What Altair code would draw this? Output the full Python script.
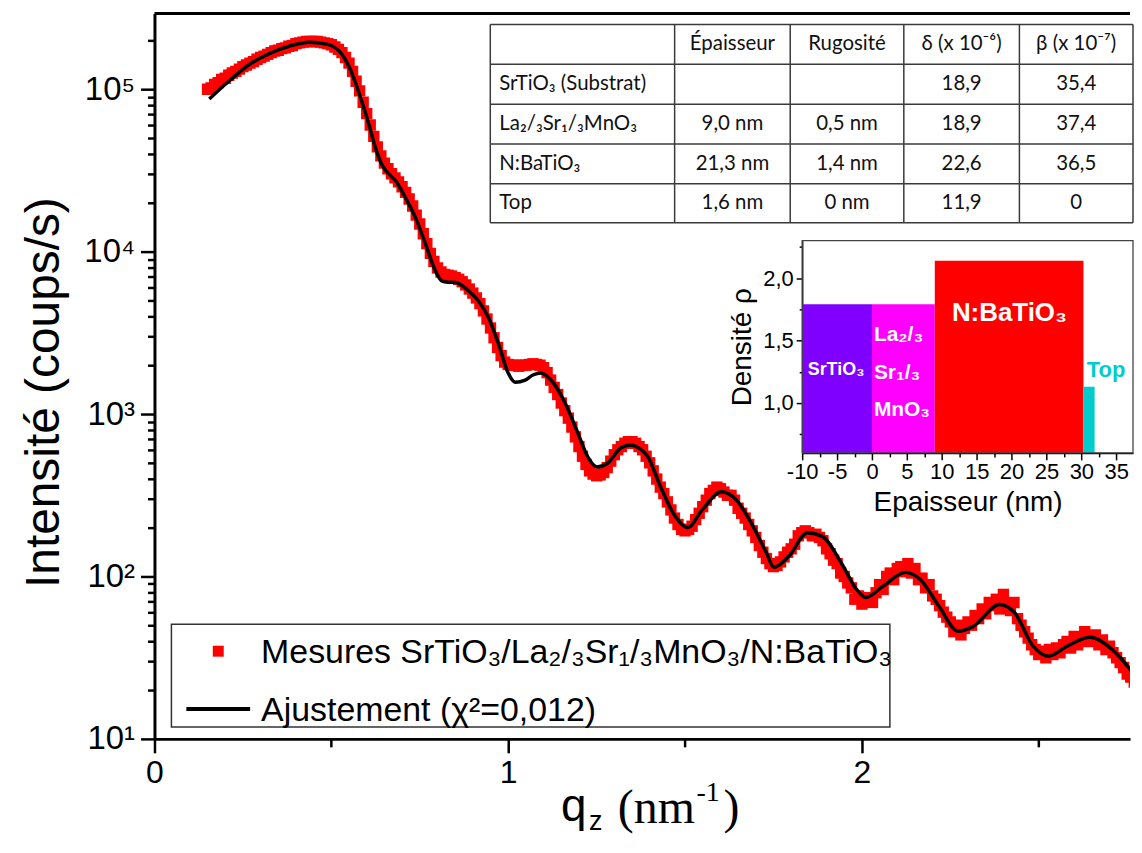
import altair as alt
import pandas as pd

# ------------------------------------------------------------------ data
q_mesures = [
    0.15, 0.16, 0.17, 0.18, 0.19, 0.20, 0.21, 0.22, 0.23, 0.24,
    0.25, 0.26, 0.27, 0.28, 0.29, 0.30, 0.31, 0.32, 0.33, 0.34,
    0.35, 0.36, 0.37, 0.38, 0.39, 0.40, 0.41, 0.42, 0.43, 0.44,
    0.45, 0.46, 0.47, 0.48, 0.49, 0.50, 0.51, 0.52, 0.53, 0.54,
    0.55, 0.56, 0.57, 0.58, 0.59, 0.60, 0.61, 0.62, 0.63, 0.64,
    0.65, 0.66, 0.67, 0.68, 0.69, 0.70, 0.71, 0.72, 0.73, 0.74,
    0.75, 0.76, 0.77, 0.78, 0.79, 0.80, 0.81, 0.82, 0.83, 0.84,
    0.85, 0.86, 0.87, 0.88, 0.89, 0.90, 0.91, 0.92, 0.93, 0.94,
    0.95, 0.96, 0.97, 0.98, 0.99, 1.00, 1.01, 1.02, 1.03, 1.04,
    1.05, 1.06, 1.07, 1.08, 1.09, 1.10, 1.11, 1.12, 1.13, 1.14,
    1.15, 1.16, 1.17, 1.18, 1.19, 1.20, 1.21, 1.22, 1.23, 1.24,
    1.25, 1.26, 1.27, 1.28, 1.29, 1.30, 1.31, 1.32, 1.33, 1.34,
    1.35, 1.36, 1.37, 1.38, 1.39, 1.40, 1.41, 1.42, 1.43, 1.44,
    1.45, 1.46, 1.47, 1.48, 1.49, 1.50, 1.51, 1.52, 1.53, 1.54,
    1.55, 1.56, 1.57, 1.58, 1.59, 1.60, 1.61, 1.62, 1.63, 1.64,
    1.65, 1.66, 1.67, 1.68, 1.69, 1.70, 1.71, 1.72, 1.73, 1.74,
    1.75, 1.76, 1.77, 1.78, 1.79, 1.80, 1.81, 1.82, 1.83, 1.84,
    1.85, 1.86, 1.87, 1.88, 1.89, 1.90, 1.91, 1.92, 1.93, 1.94,
    1.95, 1.96, 1.97, 1.98, 1.99, 2.00, 2.01, 2.02, 2.03, 2.04,
    2.05, 2.06, 2.07, 2.08, 2.09, 2.10, 2.11, 2.12, 2.13, 2.14,
    2.15, 2.16, 2.17, 2.18, 2.19, 2.20, 2.21, 2.22, 2.23, 2.24,
    2.25, 2.26, 2.27, 2.28, 2.29, 2.30, 2.31, 2.32, 2.33, 2.34,
    2.35, 2.36, 2.37, 2.38, 2.39, 2.40, 2.41, 2.42, 2.43, 2.44,
    2.45, 2.46, 2.47, 2.48, 2.49, 2.50, 2.51, 2.52, 2.53, 2.54,
    2.55, 2.56, 2.57, 2.58, 2.59, 2.60, 2.61, 2.62, 2.63, 2.64,
    2.65, 2.66, 2.67, 2.68, 2.69, 2.70, 2.71, 2.72, 2.73, 2.74,
    2.75, 2.76, 2.77,
]
I_mesures = [
    100000, 102000, 107000, 110000, 115000, 117000, 122000, 126000, 129000, 133000,
    138000, 141000, 145000, 148000, 153000, 157000, 160000, 164000, 168000, 172000,
    174000, 178000, 180000, 184000, 186000, 191000, 193000, 195000, 197000, 197000,
    197000, 197000, 195000, 193000, 191000, 188000, 182000, 176000, 168000, 157000,
    145000, 129000, 112000, 97700, 83200, 70800, 60300, 51300, 44200, 38900,
    35100, 32400, 30200, 28500, 26900, 25100, 23200, 21100, 19100, 16800,
    14800, 12900, 11200, 9770, 8710, 7940, 7500, 7240, 7160, 7080,
    6920, 6760, 6530, 6240, 5890, 5560, 5190, 4790, 4320, 3850,
    3390, 2950, 2570, 2290, 2090, 2020, 2000, 2000, 1970, 2000,
    2000, 2020, 2040, 2020, 2000, 1930, 1800, 1620, 1460, 1320,
    1170, 1050, 944, 832, 724, 631, 550, 490, 447, 427,
    417, 422, 437, 468, 513, 562, 603, 631, 661, 676,
    676, 661, 631, 603, 550, 501, 447, 398, 355, 324,
    288, 257, 229, 209, 195, 191, 195, 204, 224, 245,
    269, 295, 324, 339, 355, 347, 331, 316, 316, 295,
    263, 245, 229, 209, 191, 174, 155, 141, 129, 120,
    115, 117, 123, 132, 141, 148, 158, 178, 186, 191,
    186, 178, 182, 174, 166, 148, 138, 126, 120, 105,
    100, 91.2, 85.1, 72.4, 75.9, 67.6, 70.8, 74.1, 69.2, 79.4,
    89.1, 83.2, 100, 105, 95.5, 112, 115, 107, 120, 105,
    112, 95.5, 97.7, 85.1, 89.1, 75.9, 72.4, 66.1, 60.3, 56.2,
    52.5, 45.7, 50.1, 43.7, 47.9, 52.5, 50.1, 57.5, 55.0, 63.1,
    58.9, 69.2, 66.1, 72.4, 63.1, 77.6, 67.6, 61.7, 69.2, 55.0,
    50.1, 45.7, 41.7, 38.0, 35.5, 33.1, 34.7, 31.6, 35.5, 33.1,
    36.3, 33.9, 38.0, 39.8, 36.3, 42.7, 38.0, 39.8, 45.7, 41.7,
    39.8, 43.7, 38.0, 40.7, 35.5, 37.2, 33.9, 31.6, 29.5, 27.5,
    25.1, 24.0, 22.4,
]

q_ajust = [
    0.155, 0.21, 0.27, 0.32, 0.38, 0.437, 0.49, 0.53, 0.55, 0.57,
    0.586, 0.606, 0.625, 0.642, 0.662, 0.682, 0.71, 0.738, 0.766, 0.794,
    0.811, 0.83, 0.851, 0.887, 0.915, 0.944, 0.972, 1.0, 1.02, 1.048,
    1.07, 1.093, 1.121, 1.161, 1.197, 1.225, 1.251, 1.282, 1.318, 1.346,
    1.37, 1.394, 1.431, 1.473, 1.507, 1.549, 1.603, 1.645, 1.687, 1.73,
    1.751, 1.793, 1.846, 1.889, 1.941, 1.985, 2.011, 2.059, 2.123, 2.165,
    2.218, 2.272, 2.315, 2.389, 2.431, 2.484, 2.527, 2.58, 2.644, 2.707,
    2.78,
]
I_ajust = [
    87100, 112000, 143000, 164000, 184000, 195000, 189000, 164000, 138000, 107000,
    84300, 61000, 43400, 34700, 30200, 27300, 21400, 16200, 11200, 7640,
    6640, 6490, 6460, 5770, 5000, 3940, 2730, 1790, 1570, 1620,
    1740, 1790, 1620, 1170, 764, 545, 473, 500, 618, 646,
    617, 550, 356, 233, 200, 258, 332, 296, 214, 140,
    114, 133, 186, 176, 122, 83.2, 74.3, 86.9, 106, 95.9,
    65.5, 46.0, 49.3, 67.3, 60.1, 37.2, 32.3, 37.2, 42.3, 35.6,
    23.3,
]

serie_noms = ["Mesures SrTiO₃/La₂/₃Sr₁/₃MnO₃/N:BaTiO₃", "Ajustement (χ²=0,012)"]

x_ticks_major = [0, 1, 2]
x_ticks_minor = [0.5, 1.5, 2.5]
y_decades = [10, 100, 1000, 10000, 100000]

couches = ["SrTiO₃", "La₂/₃Sr₁/₃MnO₃", "N:BaTiO₃", "Top"]
couche_debut = [-10.0, 0.0, 9.0, 30.3]
couche_fin = [0.0, 9.0, 30.3, 31.9]
couche_densite = [1.79, 1.79, 2.14, 1.13]
couche_labels = ["SrTiO₃", "La₂/₃", "Sr₁/₃", "MnO₃", "N:BaTiO₃", "Top"]

tab_entetes = ["Épaisseur", "Rugosité", "δ (x 10⁻⁶)", "β (x 10⁻⁷)"]
tab_lignes = ["SrTiO₃ (Substrat)", "La₂/₃Sr₁/₃MnO₃", "N:BaTiO₃", "Top"]
tab_epaisseur = ["", "9,0 nm", "21,3 nm", "1,6 nm"]
tab_rugosite = ["", "0,5 nm", "1,4 nm", "0 nm"]
tab_delta = ["18,9", "18,9", "22,6", "11,9"]
tab_beta = ["35,4", "37,4", "36,5", "0"]

# ------------------------------------------------------------------ layout / style
W, H = 979, 728
X0, Y0 = 155, 12          # page position of the plot origin


def px(x):
    return x - X0


def py(y):
    return y - Y0


SANS = "Liberation Sans, Arial, Helvetica, sans-serif"
SERIF = "Liberation Serif, Times New Roman, serif"
TAB = "Lato, Carlito, Calibri, sans-serif"
couleurs_couches = ["#8000ff", "#ff00ff", "#ff0000", "#00cccc"]

y_minor = [m * d for d in [10, 100, 1000, 10000] for m in range(2, 10)] + [200000]
is_dec = "abs(log(datum.value)/LN10 - round(log(datum.value)/LN10)) < 0.001"

# ------------------------------------------------------------------ main plot
df_mes = pd.DataFrame({"q": q_mesures, "I": I_mesures})
df_fit = pd.DataFrame({"q": q_ajust, "I": I_ajust})

x_scale = alt.Scale(domain=[0, 2.758], nice=False, zero=False)
y_scale = alt.Scale(type="log", domain=[10, 293000], nice=False)

x_axis = alt.Axis(
    values=sorted(x_ticks_major + x_ticks_minor),
    labelExpr="datum.value == round(datum.value) ? '' + datum.value : ''",
    tickSize={"condition": {"test": "datum.value == round(datum.value)", "value": 14}, "value": 8},
    title=None, grid=False, labelFlush=False, labelOverlap=False,
    domainColor="black", domainWidth=3, tickColor="black", tickWidth=2.5,
    labelFont=SANS, labelFontSize=32, labelColor="black", labelPadding=5,
)
y_axis = alt.Axis(
    values=y_decades + y_minor,
    labelExpr=is_dec + " ? '10' + ['⁰','¹','²','³','⁴','⁵','⁶'][round(log(datum.value)/LN10)] : ''",
    tickSize={"condition": {"test": is_dec, "value": 14}, "value": 7},
    grid=False, labelFlush=False, labelOverlap=False,
    domainColor="black", domainWidth=3, tickColor="black", tickWidth=2.5,
    labelFont=SANS, labelFontSize=33, labelColor="black", labelPadding=6,
    title="Intensité (coups/s)", titleFont=SANS, titleFontSize=48, titleFontWeight="normal",
    titleColor="black", titleX=px(45), titleY=py(392), titleAngle=270,
    titleAlign="center", titleBaseline="middle",
)

points = alt.Chart(df_mes).mark_square(size=130, color="#ff0000", opacity=1, clip=True).encode(
    x=alt.X("q:Q", scale=x_scale, axis=x_axis),
    y=alt.Y("I:Q", scale=y_scale, axis=y_axis),
)
line = alt.Chart(df_fit).mark_line(color="black", strokeWidth=3.5, interpolate="monotone", clip=True).encode(
    x="q:Q", y="I:Q"
)
main = alt.layer(points, line)

one = pd.DataFrame({"k": [0]})
top_border = alt.Chart(one).mark_rule(color="black", strokeWidth=3).encode(
    x=alt.value(0), x2=alt.value(W), y=alt.value(0)
)

# ------------------------------------------------------------------ inset (density profile)
df_couches = pd.DataFrame({
    "couche": couches, "debut": couche_debut, "fin": couche_fin,
    "densite": couche_densite, "base": [0.6] * 4,
})
ix_scale = alt.Scale(domain=[-10, 37.4], range=[px(805), px(1137)], nice=False, zero=False)
iy_scale = alt.Scale(domain=[0.6, 2.3], range=[py(453), py(240)], nice=False, zero=False)

ix_axis = alt.Axis(
    orient="bottom", offset=py(453) - H,
    values=[-10, -7.5, -5, -2.5, 0, 2.5, 5, 7.5, 10, 12.5, 15, 17.5, 20, 22.5, 25, 27.5, 30, 32.5, 35],
    labelExpr="datum.value % 5 == 0 ? (datum.value < 0 ? '-' + abs(datum.value) : '' + datum.value) : ''",
    tickSize={"condition": {"test": "datum.value % 5 == 0", "value": 7}, "value": 4},
    grid=False, labelFlush=False, labelOverlap=False,
    domainColor="black", domainWidth=1.5, tickColor="black", tickWidth=1.5,
    labelFont=SANS, labelFontSize=22, labelColor="black", labelPadding=2,
    title="Epaisseur (nm)", titleFont=SANS, titleFontSize=28, titleFontWeight="normal",
    titleColor="black", titlePadding=6,
)
iy_axis = alt.Axis(
    orient="left", offset=-px(805),
    values=[0.75, 1.0, 1.25, 1.5, 1.75, 2.0, 2.25],
    labelExpr="(datum.value*2) == round(datum.value*2) ? replace(format(datum.value, '.1f'), '.', ',') : ''",
    tickSize={"condition": {"test": "(datum.value*2) == round(datum.value*2)", "value": 6}, "value": 3},
    grid=False, labelFlush=False, labelOverlap=False,
    domainColor="black", domainWidth=1.5, tickColor="black", tickWidth=1.5,
    labelFont=SANS, labelFontSize=22, labelColor="black", labelPadding=3,
    title="Densité ρ", titleFont=SANS, titleFontSize=28, titleFontWeight="normal",
    titleColor="black", titlePadding=6,
)
bars = alt.Chart(df_couches).mark_rect().encode(
    x=alt.X("debut:Q", scale=ix_scale, axis=ix_axis),
    x2="fin:Q",
    y=alt.Y("densite:Q", scale=iy_scale, axis=iy_axis),
    y2="base:Q",
    color=alt.Color("couche:N", scale=alt.Scale(domain=couches, range=couleurs_couches), legend=None),
)
inset_frame = alt.Chart(one).mark_rect(filled=False, color="#444", strokeWidth=1.3).encode(
    x=alt.value(px(805)), x2=alt.value(px(1137)), y=alt.value(py(240)), y2=alt.value(py(453))
)

lab_pos_x = [839, 877, 877, 877, 1013, 1110]
lab_pos_y = [370, 335, 373, 410, 313, 370]
lab_size = [18, 21, 21, 21, 26, 22]
lab_col = ["white", "white", "white", "white", "white", "#00cccc"]
lab_align = ["center", "left", "left", "left", "center", "center"]
df_lab = pd.DataFrame({
    "t": couche_labels, "x": [px(v) for v in lab_pos_x], "y": [py(v) for v in lab_pos_y],
    "s": lab_size, "c": lab_col, "a": lab_align,
})


def label_layer(align):
    return alt.Chart(df_lab[df_lab["a"] == align]).mark_text(
        align=align, baseline="middle", font=SANS, fontWeight="bold"
    ).encode(
        x=alt.X("x:Q", scale=None, axis=None),
        y=alt.Y("y:Q", scale=None, axis=None),
        text="t:N",
        size=alt.Size("s:Q", scale=None, legend=None),
        color=alt.Color("c:N", scale=None, legend=None),
    )


# ------------------------------------------------------------------ table
tab_vx = [492, 677, 793, 907, 1023, 1137]
tab_hy = [23, 63, 103, 143, 183, 222]
segs = []
for xv in tab_vx:
    segs.append({"x": px(xv), "x2": px(xv), "y": py(tab_hy[0]), "y2": py(tab_hy[-1])})
for yv in tab_hy:
    segs.append({"x": px(tab_vx[0]), "x2": px(tab_vx[-1]), "y": py(yv), "y2": py(yv)})
df_segs = pd.DataFrame(segs)
tab_rules = alt.Chart(df_segs).mark_rule(color="#3a3a3a", strokeWidth=1.5).encode(
    x=alt.X("x:Q", scale=None, axis=None), x2="x2:Q",
    y=alt.Y("y:Q", scale=None, axis=None), y2="y2:Q",
)

col_c = [(tab_vx[i] + tab_vx[i + 1]) / 2 for i in range(1, 5)]
row_c = [(tab_hy[i] + tab_hy[i + 1]) / 2 for i in range(5)]
cells_c, cells_l = [], []
for j, h in enumerate(tab_entetes):
    cells_c.append({"x": px(col_c[j]), "y": py(row_c[0]), "t": h})
cols = [tab_epaisseur, tab_rugosite, tab_delta, tab_beta]
for i, lab in enumerate(tab_lignes):
    cells_l.append({"x": px(501), "y": py(row_c[i + 1]), "t": lab})
    for j, col in enumerate(cols):
        cells_c.append({"x": px(col_c[j]), "y": py(row_c[i + 1]), "t": col[i]})


def tab_text(rows, align):
    return alt.Chart(pd.DataFrame(rows)).mark_text(
        align=align, baseline="middle", font=TAB, fontSize=20.5, color="#111"
    ).encode(
        x=alt.X("x:Q", scale=None, axis=None),
        y=alt.Y("y:Q", scale=None, axis=None),
        text="t:N",
    )


# ------------------------------------------------------------------ legend
leg_box = alt.Chart(one).mark_rect(fill="white", stroke="#333", strokeWidth=1.5).encode(
    x=alt.value(px(172)), x2=alt.value(px(893)), y=alt.value(py(625)), y2=alt.value(py(728))
)
leg_sq = alt.Chart(one).mark_square(size=121, color="#ff0000", opacity=1).encode(
    x=alt.value(px(219)), y=alt.value(py(652))
)
leg_ln = alt.Chart(one).mark_rule(color="black", strokeWidth=4).encode(
    x=alt.value(px(187)), x2=alt.value(px(251)), y=alt.value(py(710))
)
leg_t1 = alt.Chart(one).mark_text(
    text=serie_noms[0], align="left", baseline="alphabetic", font=SANS, fontSize=34, color="black"
).encode(x=alt.value(px(262)), y=alt.value(py(664)))
leg_t2 = alt.Chart(one).mark_text(
    text=serie_noms[1], align="left", baseline="alphabetic", font=SANS, fontSize=34, color="black"
).encode(x=alt.value(px(262)), y=alt.value(py(722)))

# ------------------------------------------------------------------ x title  q_z (nm^-1)
def piece(txt, x, y, size, font):
    return alt.Chart(one).mark_text(
        text=txt, align="left", baseline="alphabetic", font=font, fontSize=size, color="black"
    ).encode(x=alt.value(px(x)), y=alt.value(py(y)))


xt = [
    piece("q", 563, 822, 46, SANS),
    piece("z", 591, 831, 27, SANS),
    piece("(nm", 620, 824, 48, SERIF),
    piece("-1", 699, 802, 28, SERIF),
    piece(")", 726, 824, 48, SERIF),
]

chart = alt.layer(
    main, top_border,
    alt.layer(bars), inset_frame, label_layer("center"), label_layer("left"),
    tab_rules, tab_text(cells_c, "center"), tab_text(cells_l, "left"),
    leg_box, leg_sq, leg_ln, leg_t1, leg_t2,
    *xt,
).resolve_scale(x="independent", y="independent").properties(
    width=W, height=H,
    padding={"left": X0 - 8, "top": Y0 - 8, "right": 4, "bottom": 100},
    autosize=alt.AutoSizeParams(type="none"),
).configure_view(stroke=None)

chart.save("out.html", embed_options={"renderer": "svg", "actions": False})
